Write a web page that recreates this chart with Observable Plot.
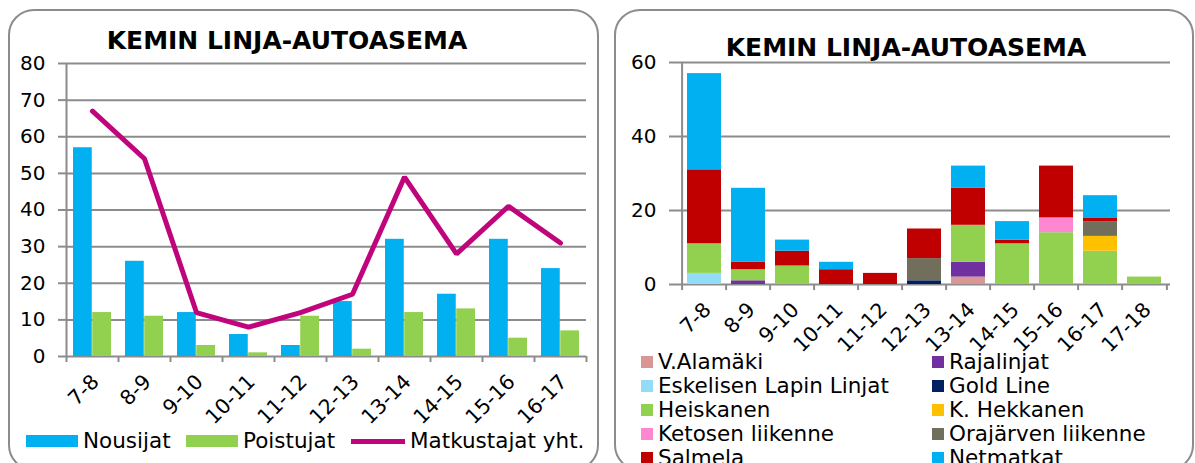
<!DOCTYPE html>
<html>
<head>
<meta charset="utf-8">
<script src="https://cdn.jsdelivr.net/npm/d3@7"></script>
<script src="https://cdn.jsdelivr.net/npm/@observablehq/plot@0.6"></script>
<style>
  html, body { margin: 0; padding: 0; background: #fff; }
  body { width: 1195px; height: 463px; position: relative; overflow: hidden; font-family: "DejaVu Sans", Verdana, sans-serif; }
  .panel { position: absolute; border: 2px solid #8c8c8c; border-radius: 26px; box-sizing: border-box; }
  .title { position: absolute; font-weight: bold; font-size: 25px; text-align: center; white-space: nowrap; color: #000; line-height: 1; }
  .chart { position: absolute; }
  .leg { position: absolute; font-size: 21.5px; color: #000; white-space: nowrap; line-height: 1; }
  .leg .sw { display: inline-block; vertical-align: middle; }
  .leg span.t { vertical-align: middle; }
</style>
</head>
<body>
<div class="panel" style="left:8px; top:9px; width:591px; height:462px;"></div>
<div class="panel" style="left:614px; top:9px; width:580px; height:462px;"></div>
<div class="title" id="t1" style="left:87px; width:400px; top:28px;"></div>
<div class="title" id="t2" style="left:706px; width:400px; top:35px;"></div>
<div class="chart" id="c1" style="left:0; top:0;"></div>
<div class="chart" id="c2" style="left:600px; top:0;"></div>
<div id="leg1"></div>
<div id="leg2"></div>
<script>
// ---------- data: left chart ----------
const title = "KEMIN LINJA-AUTOASEMA";
const hoursLeft = ["7-8","8-9","9-10","10-11","11-12","12-13","13-14","14-15","15-16","16-17"];
const nousijat = [57, 26, 12, 6, 3, 15, 32, 17, 32, 24];
const poistujat = [12, 11, 3, 1, 11, 2, 12, 13, 5, 7];
const matkustajat = [67, 54, 12, 8, 12, 17, 49, 28, 41, 31];
const yTicksLeft = [0, 10, 20, 30, 40, 50, 60, 70, 80];
const seriesLeft = ["Nousijat", "Poistujat", "Matkustajat yht."];

// ---------- data: right chart ----------
const hoursRight = ["7-8","8-9","9-10","10-11","11-12","12-13","13-14","14-15","15-16","16-17","17-18"];
const companies = ["V.Alamäki","Rajalinjat","Eskelisen Lapin Linjat","Gold Line","Heiskanen","K. Hekkanen","Ketosen liikenne","Orajärven liikenne","Salmela","Netmatkat"];
const vAlamaki   = [0, 0, 0, 0, 0, 0, 2, 0, 0, 0, 0];
const rajalinjat = [0, 1, 0, 0, 0, 0, 4, 0, 0, 0, 0];
const eskelisen  = [3, 0, 0, 0, 0, 0, 0, 0, 0, 0, 0];
const goldLine   = [0, 0, 0, 0, 0, 1, 0, 0, 0, 0, 0];
const heiskanen  = [8, 3, 5, 0, 0, 0, 10, 11, 14, 9, 2];
const kHekkanen  = [0, 0, 0, 0, 0, 0, 0, 0, 0, 4, 0];
const ketosen    = [0, 0, 0, 0, 0, 0, 0, 0, 4, 0, 0];
const orajarven  = [0, 0, 0, 0, 0, 6, 0, 0, 0, 4, 0];
const salmela    = [20, 2, 4, 4, 3, 8, 10, 1, 14, 1, 0];
const netmatkat  = [26, 20, 3, 2, 0, 0, 6, 5, 0, 6, 0];
const yTicksRight = [0, 20, 40, 60];

// ---------- styles ----------
const colLeft = ["#00B0F0", "#92D050", "#C0047B"];
const colRight = ["#D99694","#7030A0","#93DCF8","#002060","#92D050","#FFC000","#FF86D0","#716F5C","#C00000","#00B0F0"];
const gridColor = "#8c8c8c";
const font = "DejaVu Sans, Verdana, sans-serif";

document.getElementById("t1").textContent = title;
document.getElementById("t2").textContent = title;

function axes(hours, yTicks, yMax, step, pxPerUnit) {
  return [
    Plot.ruleY(yTicks, {stroke: gridColor, strokeWidth: 2}),
    Plot.axisY(yTicks, {tickSize: 8, tickPadding: 13, stroke: gridColor, strokeWidth: 2, fill: "#000", fontSize: 20, label: null}),
    Plot.axisX({tickSize: 0, tickRotate: -45, tickPadding: 22, dx: 3, fill: "#000", fontSize: 20.5, label: null}),
    Plot.ruleX(hours, {x: d => d, dx: -step / 2, y1: 0, y2: -6 / pxPerUnit, stroke: gridColor, strokeWidth: 2}),
    Plot.ruleX(hours.slice(-1), {x: d => d, dx: step / 2, y1: 0, y2: -6 / pxPerUnit, stroke: gridColor, strokeWidth: 2}),
    Plot.ruleX(hours.slice(0, 1), {x: d => d, dx: -step / 2, y1: 0, y2: yMax, stroke: gridColor, strokeWidth: 2})
  ];
}

// ---------- left chart ----------
{
  const W = 600, H = 420, mL = 66, mR = 14, mT = 63, mB = H - 356;
  const n = hoursLeft.length;
  const step = (W - mL - mR) / n;
  const pIn = 0.26;
  const bw = step * (1 - pIn);
  const pxPerUnit = (H - mT - mB) / 80;
  const rows = hoursLeft.map((h, i) => ({hour: h, nous: nousijat[i], pois: poistujat[i], matk: matkustajat[i]}));
  const chart = Plot.plot({
    width: W, height: H,
    marginLeft: mL, marginRight: mR, marginTop: mT, marginBottom: mB,
    style: {fontFamily: font, fontSize: "20px", color: "#000", background: "transparent", overflow: "visible"},
    x: {domain: hoursLeft, type: "band", paddingInner: pIn, paddingOuter: pIn / 2, label: null},
    y: {domain: [0, 80], label: null},
    marks: [
      ...axes(hoursLeft, yTicksLeft, 80, step, pxPerUnit),
      Plot.barY(rows, {x: "hour", y: "nous", fill: colLeft[0], insetRight: bw / 2}),
      Plot.barY(rows, {x: "hour", y: "pois", fill: colLeft[1], insetLeft: bw / 2}),
      Plot.lineY(rows, {x: "hour", y: "matk", stroke: colLeft[2], strokeWidth: 5, strokeLinejoin: "miter"})
    ]
  });
  document.getElementById("c1").appendChild(chart);

  // legend
  const leg = document.getElementById("leg1");
  const items = [
    {x: 26, w: 52, kind: "bar", c: colLeft[0], t: seriesLeft[0]},
    {x: 186, w: 52, kind: "bar", c: colLeft[1], t: seriesLeft[1]},
    {x: 351, w: 54, kind: "line", c: colLeft[2], t: seriesLeft[2]}
  ];
  items.forEach(it => {
    const d = document.createElement("div");
    d.className = "leg";
    d.style.left = it.x + "px";
    d.style.top = "429px";
    const h = it.kind === "bar" ? 12 : 5;
    d.innerHTML = `<span class="sw" style="width:${it.w}px;height:${h}px;background:${it.c};margin-right:5px;"></span><span class="t"></span>`;
    d.querySelector(".t").textContent = it.t;
    leg.appendChild(d);
  });
}

// ---------- right chart ----------
{
  const W = 595, H = 345, mL = 77, mR = 25, mT = 62, mB = H - 284;
  const n = hoursRight.length;
  const step = (W - mL - mR) / n;
  const pIn = 0.23;
  const pxPerUnit = (H - mT - mB) / 60;
  const seriesVals = [vAlamaki, rajalinjat, eskelisen, goldLine, heiskanen, kHekkanen, ketosen, orajarven, salmela, netmatkat];
  const long = [];
  hoursRight.forEach((h, i) => {
    companies.forEach((c, k) => {
      long.push({hour: h, company: c, value: seriesVals[k][i]});
    });
  });
  const chart = Plot.plot({
    width: W, height: H,
    marginLeft: mL, marginRight: mR, marginTop: mT, marginBottom: mB,
    style: {fontFamily: font, fontSize: "20px", color: "#000", background: "transparent", overflow: "visible"},
    x: {domain: hoursRight, type: "band", paddingInner: pIn, paddingOuter: pIn / 2, label: null},
    y: {domain: [0, 60], label: null},
    color: {domain: companies, range: colRight},
    marks: [
      ...axes(hoursRight, yTicksRight, 60, step, pxPerUnit),
      Plot.barY(long, {x: "hour", y: "value", fill: "company", order: null})
    ]
  });
  document.getElementById("c2").appendChild(chart);

  const leg = document.getElementById("leg2");
  companies.forEach((c, k) => {
    const col = k % 2, row = Math.floor(k / 2);
    const d = document.createElement("div");
    d.className = "leg";
    d.style.left = (col === 0 ? 641 : 932) + "px";
    d.style.top = (350 + row * 24) + "px";
    d.innerHTML = `<span class="sw" style="width:12px;height:12px;background:${colRight[k]};margin-right:5px;"></span><span class="t"></span>`;
    d.querySelector(".t").textContent = c;
    leg.appendChild(d);
  });
}
</script>
</body>
</html>
